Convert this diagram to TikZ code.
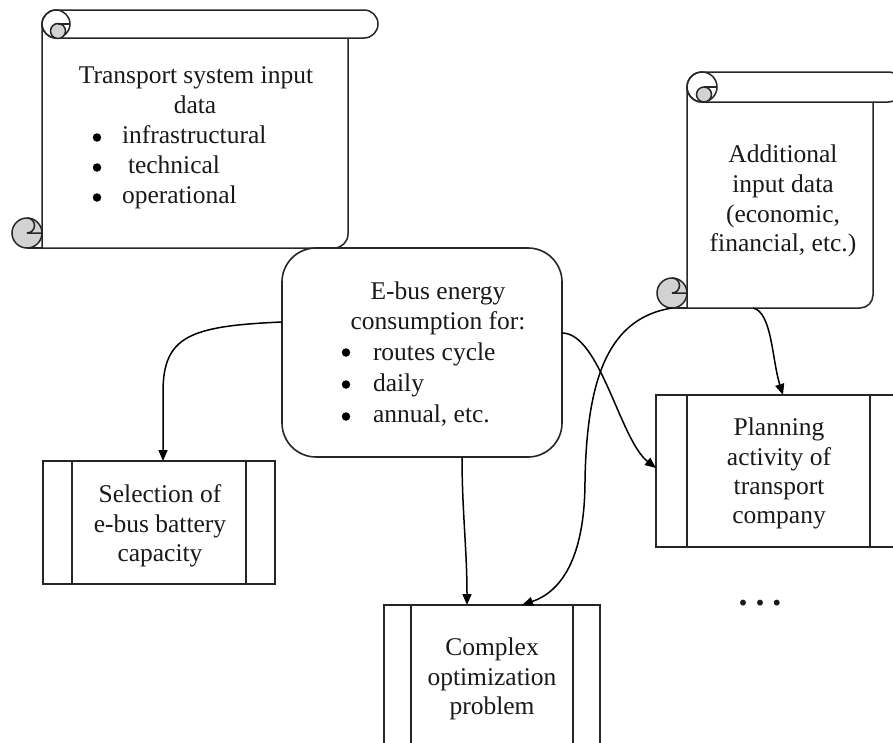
\documentclass[tikz,border=0pt]{standalone}
\usepackage{fontspec}
\setmainfont{Liberation Serif}
\usetikzlibrary{arrows.meta}
\begin{document}
\begin{tikzpicture}[x=1pt,y=-1pt,
  every node/.style={font=\fontsize{25.5}{30}\selectfont, inner sep=0pt, outer sep=0pt, text=black!90},
  txt/.style={anchor=base},
  lft/.style={anchor=base west},
  bul/.style={circle, fill=black, minimum size=8.5pt},
  scl/.style={draw=black!85, line width=1.5pt, fill=white},
  curl/.style={draw=black!85, line width=1.5pt, fill=gray!35},
  procbox/.style={draw=black!85, line width=1.6pt, rectangle,
    path picture={
      \draw[black!85, line width=1.6pt] ([xshift=#1]path picture bounding box.north west) -- ([xshift=#1]path picture bounding box.south west);
      \draw[black!85, line width=1.6pt] ([xshift=-#1]path picture bounding box.north east) -- ([xshift=-#1]path picture bounding box.south east);}},
  roundbox/.style={draw=black!85, line width=1.6pt, rounded corners=34pt},
  arr/.style={draw=black, line width=1.5pt, -{Triangle[length=11pt,width=9pt]}},
]
\path[use as bounding box] (0,0) rectangle (893,742);
\clip (0,0) rectangle (893,742);
\fill[white] (0,0) rectangle (893,742);

% ---------- scroll 1: transport system input data ----------
\filldraw[scl] (42,24) -- (42,248) -- (334,248) arc[start angle=90,end angle=0,radius=14] -- (348,24) -- cycle;
\draw[scl] (27,248) -- (42,248);
\filldraw[curl] (27,233) circle[radius=15];
\draw[scl, fill=none] (27,218) arc[start angle=-90,end angle=90,radius=7.5] -- (42,233);
\filldraw[scl] (56,10) -- (364,10) arc[start angle=-90,end angle=90,radius=14] -- (56,38) arc[start angle=90,end angle=270,radius=14] -- cycle;
\draw[scl, fill=none] (56,24) circle[radius=14];
\filldraw[curl] (58,31) circle[radius=7.5];
\draw[scl] (58,24) -- (70,24);
\node[minimum width=306pt, minimum height=210pt] (tsd) at (195,143) {};
\node[txt] (tsd1) at (196,83) {Transport system input};
\node[txt] (tsd2) at (195,113) {data};
\node[bul] (tsdb1) at (97,137.5) {};
\node[bul] (tsdb2) at (97,167.5) {};
\node[bul] (tsdb3) at (97,197.5) {};
\node[lft] (tsd3) at (122,143) {infrastructural};
\node[lft] (tsd4) at (128,173) {technical};
\node[lft] (tsd5) at (122,203) {operational};

% ---------- scroll 2: additional input data ----------
\filldraw[scl] (687,87) -- (687,308) -- (860,308) arc[start angle=90,end angle=0,radius=13] -- (873,87) -- cycle;
\draw[scl] (672,308) -- (687,308);
\node[circle, curl, minimum size=30pt] (addcurl) at (672,293) {};
\draw[scl, fill=none] (672,278) arc[start angle=-90,end angle=90,radius=7.5] -- (687,293);
\filldraw[scl] (702,72) -- (888,72) arc[start angle=-90,end angle=90,radius=15] -- (702,102) arc[start angle=90,end angle=270,radius=15] -- cycle;
\draw[scl, fill=none] (702,87) circle[radius=15];
\filldraw[curl] (704,94.5) circle[radius=7.5];
\draw[scl] (704,87) -- (717,87);
\node[minimum width=186pt, minimum height=206pt] (add) at (780,205) {};
\node[txt] (add1) at (783,162) {Additional};
\node[txt] (add2) at (783,192) {input data};
\node[txt] (add3) at (783,222) {(economic,};
\node[txt] (add4) at (783,251) {financial, etc.)};

% ---------- E-bus energy consumption ----------
\node[roundbox, minimum width=280pt, minimum height=209pt] (ebus) at (422,352.5) {};
\node[txt] (eb1) at (438,299) {E-bus energy};
\node[txt] (eb2) at (438,329) {consumption for:};
\node[bul] (ebb1) at (346,352.5) {};
\node[bul] (ebb2) at (346,384.5) {};
\node[bul] (ebb3) at (346,416.5) {};
\node[lft] (eb3) at (373,360) {routes cycle};
\node[lft] (eb4) at (373,391) {daily};
\node[lft] (eb5) at (373,422) {annual, etc.};

% ---------- process boxes ----------
\node[procbox=29pt, minimum width=232pt, minimum height=123pt] (sel) at (159,522.5) {};
\node[txt] (sel1) at (160,502) {Selection of};
\node[txt] (sel2) at (160,532) {e-bus battery};
\node[txt] (sel3) at (160,561) {capacity};

\node[procbox=27pt, minimum width=216pt, minimum height=160pt] (cplx) at (492,685) {};
\node[txt] (cp1) at (492,655) {Complex};
\node[txt] (cp2) at (492,685) {optimization};
\node[txt] (cp3) at (492,714) {problem};

\node[procbox=31pt, minimum width=245pt, minimum height=152pt] (plan) at (778.5,471) {};
\node[txt] (pl1) at (779,435) {Planning};
\node[txt] (pl2) at (779,465) {activity of};
\node[txt] (pl3) at (779,494) {transport};
\node[txt] (pl4) at (779,523) {company};

\node[txt, font=\fontsize{36}{30}\selectfont\bfseries] (dots) at (760,605) {.\hspace{8pt}.\hspace{8pt}.};

% ---------- connectors ----------
\draw[arr] ([yshift=30.5pt]ebus.west) .. controls (190,326) and (163,336) .. (163,392) -- ([xshift=4pt]sel.north);
\draw[arr] ([xshift=40pt]ebus.south) .. controls (462,510) and (467,550) .. ([xshift=-25pt]cplx.north);
\draw[arr] ([yshift=19.5pt]ebus.east) .. controls (600,333) and (620,440) .. ([yshift=3pt]plan.west);
\draw[arr] (addcurl.south) .. controls (610,318) and (587,375) .. (585,480) .. controls (585,560) and (560,592) .. ([xshift=30pt]cplx.north);
\draw[arr] ([xshift=-27pt]add.south) .. controls (772,312) and (772,360) .. ([xshift=4.5pt]plan.north);
\end{tikzpicture}
\end{document}
